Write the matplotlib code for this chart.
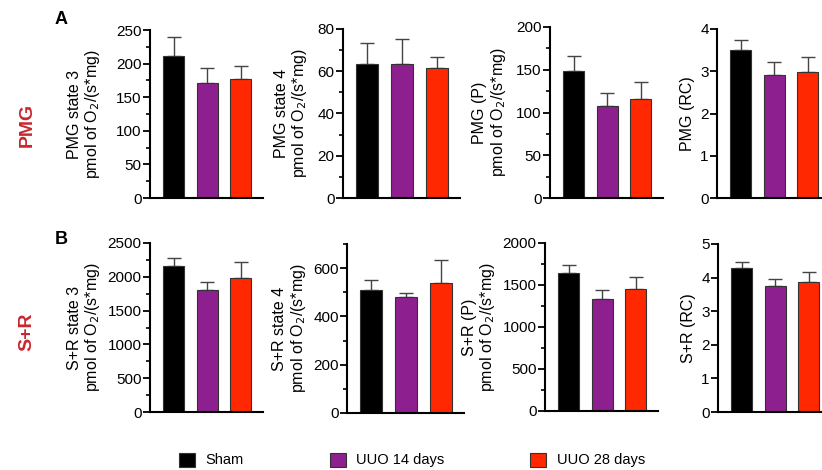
import matplotlib
matplotlib.use("Agg")
import matplotlib.pyplot as plt
from matplotlib.patches import Patch
from matplotlib.ticker import MultipleLocator

plt.rcParams['font.family'] = ['Liberation Sans', 'DejaVu Sans']

grupos = ['Sham', 'UUO 14 days', 'UUO 28 days']
cores = ['#000000', '#8E1F8E', '#FF2800']

# PMG (linha A)
pmg_estado3 = [212, 171, 177]
pmg_estado3_err = [27, 23, 20]
pmg_estado4 = [63.4, 63.4, 61.4]
pmg_estado4_err = [10, 11.8, 5.3]
pmg_p = [149, 108, 116]
pmg_p_err = [17, 15, 20]
pmg_rc = [3.50, 2.90, 2.98]
pmg_rc_err = [0.24, 0.33, 0.36]

# S+R (linha B)
sr_estado3 = [2154, 1809, 1982]
sr_estado3_err = [124, 108, 231]
sr_estado4 = [510, 479, 538]
sr_estado4_err = [41, 17, 96]
sr_p = [1648, 1331, 1458]
sr_p_err = [95, 107, 138]
sr_rc = [4.28, 3.76, 3.86]
sr_rc_err = [0.17, 0.20, 0.32]

unidade = 'pmol of O$_2$/(s*mg)'

paineis = [
    # (valores, erros, rotulo, ylim, passo maior, passo menor, ticks max, labelpad)
    (pmg_estado3, pmg_estado3_err, 'PMG state 3\n' + unidade, 250, 50, 25, 250, 10),
    (pmg_estado4, pmg_estado4_err, 'PMG state 4\n' + unidade, 80, 20, 10, 80, 6),
    (pmg_p, pmg_p_err, 'PMG (P)\n' + unidade, 200, 50, 25, 200, 6),
    (pmg_rc, pmg_rc_err, 'PMG (RC)', 4, 1, None, 4, 4),
    (sr_estado3, sr_estado3_err, 'S+R state 3\n' + unidade, 2500, 500, 250, 2500, 4),
    (sr_estado4, sr_estado4_err, 'S+R state 4\n' + unidade, 700, 200, 100, 600, 4),
    (sr_p, sr_p_err, 'S+R (P)\n' + unidade, 2000, 500, 250, 2000, 4),
    (sr_rc, sr_rc_err, 'S+R (RC)', 5, 1, None, 5, 4),
]

W, H = 822, 470
fig = plt.figure(figsize=(W / 100, H / 100), dpi=100)

# posicoes em pixels: (esquerda, topo, direita, base)
caixas = [
    (150, 30, 263, 198), (343, 29, 460, 198), (550, 27, 663, 198), (717, 29, 830, 198),
    (150, 243, 263, 412), (347, 244, 464, 413), (545, 243, 658, 411), (718, 244, 831, 412),
]

for (vals, errs, rotulo, ymax, maior, menor, tmax, pad), (l, t, r, b) in zip(paineis, caixas):
    ax = fig.add_axes([l / W, 1 - b / H, (r - l) / W, (b - t) / H])
    x = [0, 1, 2]
    ax.bar(x, vals, width=0.63, color=cores, edgecolor='#333333', linewidth=0.8, zorder=2)
    ax.errorbar(x, vals, yerr=[[0, 0, 0], errs], fmt='none', ecolor='#444444',
                elinewidth=1, capsize=5, capthick=1, zorder=1)
    ax.set_xlim(-0.70, 2.66)
    ax.set_ylim(0, ymax)
    ax.set_yticks([v * maior for v in range(int(tmax / maior) + 1)])
    if menor:
        ax.yaxis.set_minor_locator(MultipleLocator(menor))
    ax.set_xticks([])
    for lado in ['top', 'right']:
        ax.spines[lado].set_visible(False)
    for lado in ['left', 'bottom']:
        ax.spines[lado].set_linewidth(1.5)
    ax.tick_params(axis='y', which='major', direction='out', length=5, width=1.3,
                   labelsize=11, pad=1)
    ax.tick_params(axis='y', which='minor', direction='out', length=3, width=1.2)
    ax.set_ylabel(rotulo, fontsize=11.5, labelpad=pad, linespacing=1.1)
    ax.set_facecolor('none')

fig.text(55 / W, 1 - 20 / H, 'A', fontsize=13, fontweight='bold', ha='left', va='center')
fig.text(55 / W, 1 - 240 / H, 'B', fontsize=13, fontweight='bold', ha='left', va='center')
fig.text(27 / W, 1 - 125 / H, 'PMG', fontsize=14, fontweight='bold', color='#C8282E',
         rotation=90, ha='center', va='center')
fig.text(27 / W, 1 - 332 / H, 'S+R', fontsize=14, fontweight='bold', color='#C8282E',
         rotation=90, ha='center', va='center')

handles = [Patch(facecolor=c, edgecolor='#333333', linewidth=0.8) for c in cores]
fig.legend(handles, grupos, loc='center', bbox_to_anchor=(412 / W, 1 - 460 / H), ncol=3,
           frameon=False, fontsize=10.5, columnspacing=5.9, handlelength=1.1,
           handleheight=1.1, handletextpad=0.7)

fig.savefig('out.png', dpi=100)
